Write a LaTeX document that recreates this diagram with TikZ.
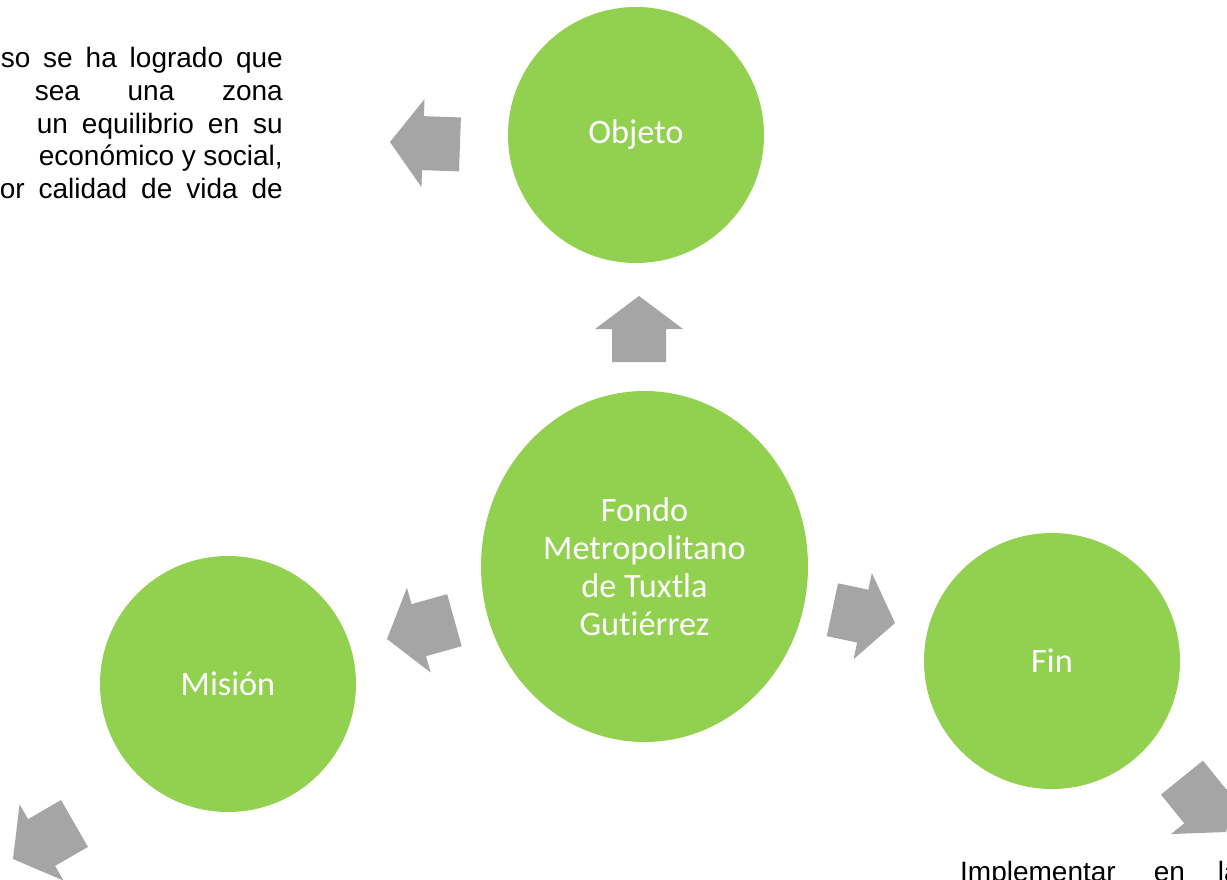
\documentclass[tikz,border=0pt]{standalone}
\usepackage{fontspec}
\setmainfont{Liberation Sans}
\newfontfamily\calib[Ligatures=NoCommon]{Carlito}
\usetikzlibrary{shapes.geometric}
\definecolor{sagreen}{RGB}{146,208,80}
\definecolor{sagray}{RGB}{165,165,165}
\tikzset{
  circ/.style={circle, fill=sagreen, draw=none, minimum size=256pt, inner sep=0pt,
    text=white, align=center, font=\calib\fontsize{34.3}{38}\selectfont},
  hub/.style={ellipse, fill=sagreen, draw=none, minimum width=327pt, minimum height=351pt,
    inner sep=0pt, text=white, align=center, font=\calib\fontsize{34.3}{38}\selectfont},
  arr/.style={fill=sagray, draw=none},
  bodytext/.style={inner sep=0pt, text=black, font=\fontsize{28}{32.5}\selectfont}
}
\newcommand\sarrow[4]{%
  \begin{scope}[shift={(#1,#2)}, rotate=#3]
    \fill[arr] (0,0) -- (-33,44) -- (-33,27) -- (-#4,27) -- (-#4,-27) -- (-33,-27) -- (-33,-44) -- cycle;
  \end{scope}}
\begin{document}
\begin{tikzpicture}[x=1pt, y=-1pt]
\useasboundingbox (0,0) rectangle (1227,879);
\clip (0,0) rectangle (1227,879);
\fill[white] (0,0) rectangle (1227,879);

% circles
\node[circ] (obj) at (636,135) {Objeto};
\node[hub] (fondo) at (644.5,566.5) {Fondo\\Metropolitano\\de Tuxtla\\Gutiérrez};
\node[circ] (mis) at (228,684) {Misión};
\node[circ] (fin) at (1052,661) {Fin};

% arrows
\sarrow{639}{296}{90}{66}
\sarrow{390}{142}{178}{70}
\sarrow{387}{639}{195.6}{70}
\sarrow{895}{623}{-12}{64}
\sarrow{13}{859}{210}{71}
\sarrow{1226}{832}{-51}{70}

% text on the left (justified lines)
\node[bodytext, anchor=base east] (l1) at (283,67) {\makebox[282pt][s]{so se ha logrado que}};
\node[bodytext, anchor=base east] (l2) at (283,100) {\makebox[248pt][s]{sea una zona}};
\node[bodytext, anchor=base east] (l3) at (283,133) {\makebox[246pt][s]{un equilibrio en su}};
\node[bodytext, anchor=base east] (l4) at (283,165) {\makebox[244pt][s]{económico y social,}};
\node[bodytext, anchor=base east] (l5) at (283,198) {\makebox[283pt][s]{or calidad de vida de}};

% text at the bottom right
\node[bodytext, anchor=base west] (impl) at (960,881) {Implementar\hspace{38pt}en\hspace{33pt}la};
\end{tikzpicture}
\end{document}
